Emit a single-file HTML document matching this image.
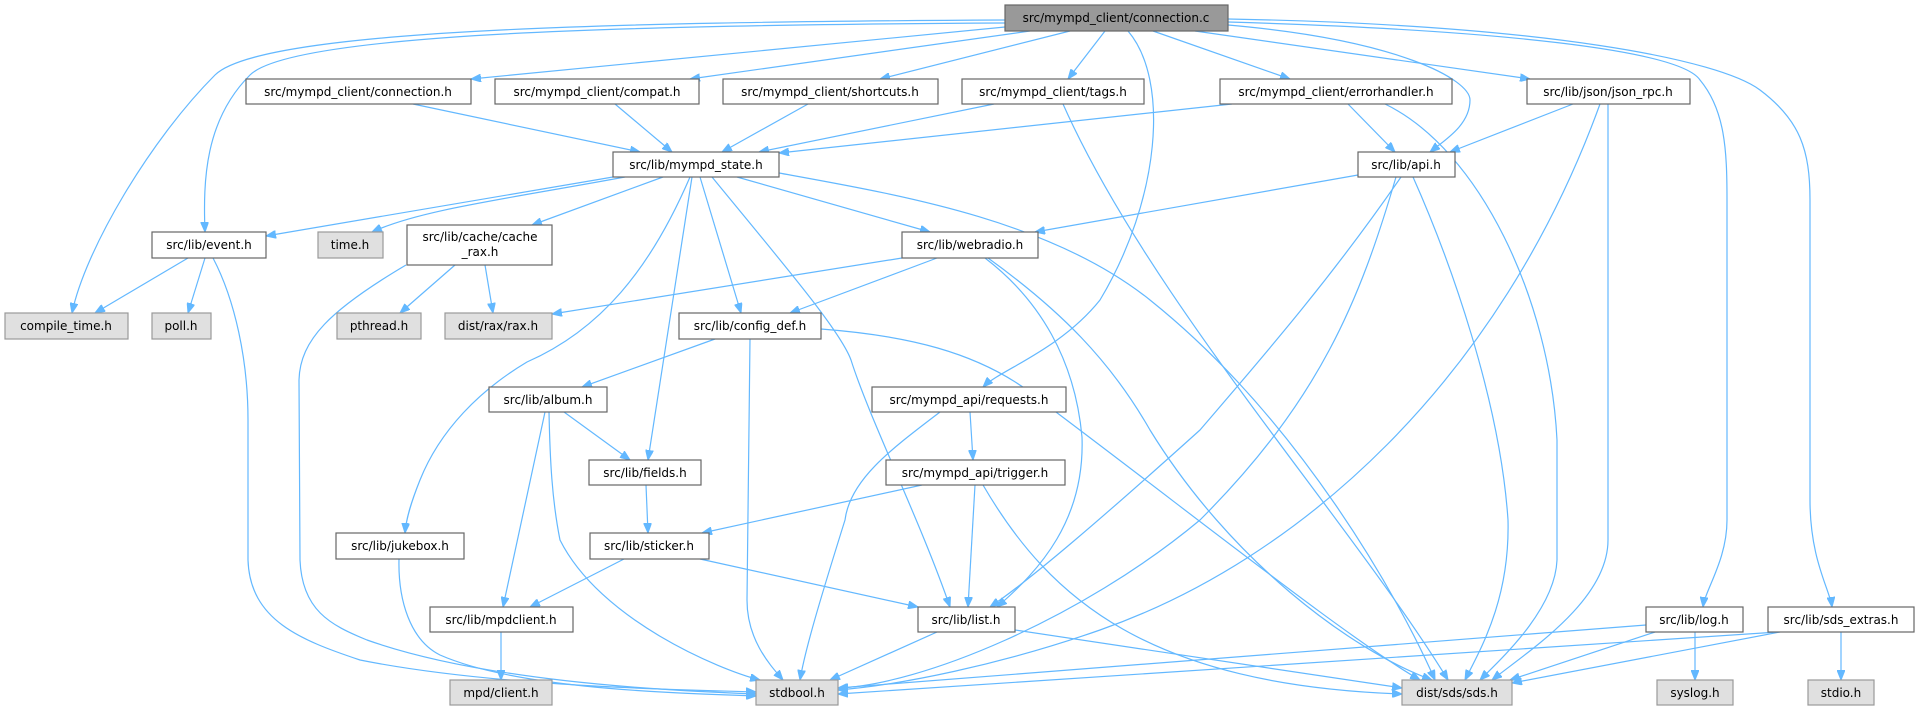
<!DOCTYPE html>
<html><head><meta charset="utf-8"><style>
html,body{margin:0;padding:0;background:#fff;}
svg{display:block;}
.n rect{fill:#fff;stroke:#666;stroke-width:1.2;}
.g rect{fill:#e0e0e0;stroke:#999;stroke-width:1.2;}
.m rect{fill:#999;stroke:#666;stroke-width:1.2;}
text{font-family:"DejaVu Sans","Liberation Sans",sans-serif;font-size:12px;fill:#000;text-anchor:middle;}
.e path{fill:none;stroke:#63b8ff;stroke-width:1.2;marker-end:url(#a);}
</style></head><body>
<svg width="1923" height="711" viewBox="0 0 1923 711" xmlns="http://www.w3.org/2000/svg">
<defs><marker id="a" markerUnits="userSpaceOnUse" markerWidth="11" markerHeight="8" refX="10" refY="4" orient="auto"><path d="M0,0 L10,4 L0,8 z" fill="#63b8ff" stroke="#63b8ff"/></marker></defs>
<g class="e">
<path d="M1005,20 C600,22 260,30 215,75 C150,140 85,250 72,313"/>
<path d="M1005,23 C600,25 290,35 250,75 C205,120 203,180 205,232"/>
<path d="M1005,27 L471,79"/>
<path d="M1030,31 L690,79"/>
<path d="M1070,31 L880,79"/>
<path d="M1105,31 L1068,79"/>
<path d="M1128,31 C1170,80 1160,200 1100,300 C1060,350 1000,370 983,387"/>
<path d="M1153,31 L1290,79"/>
<path d="M1195,31 L1530,79"/>
<path d="M1228,25 C1400,40 1470,80 1470,100 C1470,125 1445,140 1430,152"/>
<path d="M1228,22 C1500,30 1680,50 1700,80 C1725,110 1727,150 1727,200 L1727,520 C1727,560 1705,590 1703,607"/>
<path d="M1228,19 C1550,25 1720,60 1760,90 C1800,120 1810,150 1810,200 L1810,500 C1810,560 1830,590 1832,607"/>
<path d="M413,104 L640,152"/>
<path d="M615,104 L672,152"/>
<path d="M808,104 L722,152"/>
<path d="M994,104 L759,152"/>
<path d="M1063,104 C1150,300 1350,520 1448,680"/>
<path d="M1232,104 L779,153"/>
<path d="M1348,104 L1395,152"/>
<path d="M1385,104 C1480,150 1550,300 1557,440 L1557,560 C1555,610 1500,660 1480,680"/>
<path d="M1573,104 L1450,152"/>
<path d="M1600,104 C1500,380 1300,560 1100,630 C1000,665 900,685 838,690"/>
<path d="M1608,104 L1608,540 C1608,600 1530,650 1492,680"/>
<path d="M613,177 L266,236"/>
<path d="M625,177 C500,200 420,210 372,232"/>
<path d="M663,177 L532,225"/>
<path d="M690,177 C650,270 600,330 527,362 C480,390 440,430 420,480 C410,505 406,520 405,533"/>
<path d="M692,177 L648,460"/>
<path d="M700,177 L741,313"/>
<path d="M712,177 C780,260 840,330 851,360 C870,420 920,520 950,607"/>
<path d="M737,177 L930,232"/>
<path d="M779,173 C900,195 1050,220 1150,300 C1300,420 1400,600 1435,680"/>
<path d="M1358,175 L1035,232"/>
<path d="M1401,177 C1330,280 1260,360 1200,430 C1100,520 1030,580 990,607"/>
<path d="M1396,177 C1360,300 1320,400 1200,520 C1080,620 920,685 838,688"/>
<path d="M1413,177 C1450,260 1500,400 1508,520 C1510,600 1480,650 1465,680"/>
<path d="M188,258 L95,313"/>
<path d="M205,258 L188,313"/>
<path d="M213,258 C235,300 248,360 248,420 L248,560 C250,620 300,640 360,660 C500,688 700,690 756,692"/>
<path d="M455,265 L400,313"/>
<path d="M485,265 L493,313"/>
<path d="M406,265 C330,310 300,340 299,380 L300,560 C302,610 330,625 367,640 C480,680 650,690 756,694"/>
<path d="M902,258 L552,314"/>
<path d="M937,258 L790,313"/>
<path d="M985,258 C1040,300 1075,360 1082,437 C1085,520 1040,570 997,607"/>
<path d="M988,258 C1060,310 1110,360 1150,430 C1230,560 1350,650 1432,680"/>
<path d="M715,339 L582,387"/>
<path d="M750,339 L747,600 C747,640 770,665 783,680"/>
<path d="M821,329 C900,335 980,350 1040,400 C1200,520 1350,640 1420,680"/>
<path d="M564,412 L630,460"/>
<path d="M545,412 L503,607"/>
<path d="M549,412 C550,460 552,500 560,540 C600,620 720,670 760,680"/>
<path d="M940,412 C890,450 850,480 845,520 C820,600 805,650 800,680"/>
<path d="M970,412 L973,460"/>
<path d="M646,485 L648,533"/>
<path d="M922,485 L702,533"/>
<path d="M975,485 L968,607"/>
<path d="M983,485 C1050,600 1150,685 1402,694"/>
<path d="M624,559 L530,607"/>
<path d="M700,559 L918,607"/>
<path d="M501,632 L501,680"/>
<path d="M399,559 C398,600 410,640 440,655 C520,690 680,693 756,696"/>
<path d="M937,632 L830,680"/>
<path d="M1015,630 L1402,688"/>
<path d="M1646,625 L838,688"/>
<path d="M1655,632 L1510,680"/>
<path d="M1695,632 L1695,680"/>
<path d="M1778,632 L838,694"/>
<path d="M1780,632 L1512,683"/>
<path d="M1841,632 L1841,680"/>
</g>
<g class="m"><rect x="1005" y="5" width="223" height="26"/><text x="1116" y="22">src/mympd_client/connection.c</text></g>
<g class="n"><rect x="246" y="79" width="225" height="25"/><text x="358" y="96">src/mympd_client/connection.h</text></g>
<g class="n"><rect x="495" y="79" width="204" height="25"/><text x="597" y="96">src/mympd_client/compat.h</text></g>
<g class="n"><rect x="723" y="79" width="215" height="25"/><text x="830" y="96">src/mympd_client/shortcuts.h</text></g>
<g class="n"><rect x="962" y="79" width="182" height="25"/><text x="1053" y="96">src/mympd_client/tags.h</text></g>
<g class="n"><rect x="1220" y="79" width="232" height="25"/><text x="1336" y="96">src/mympd_client/errorhandler.h</text></g>
<g class="n"><rect x="1527" y="79" width="163" height="25"/><text x="1608" y="96">src/lib/json/json_rpc.h</text></g>
<g class="n"><rect x="613" y="152" width="166" height="25"/><text x="696" y="169">src/lib/mympd_state.h</text></g>
<g class="n"><rect x="1358" y="152" width="97" height="25"/><text x="1406" y="169">src/lib/api.h</text></g>
<g class="n"><rect x="152" y="232" width="114" height="26"/><text x="209" y="249">src/lib/event.h</text></g>
<g class="g"><rect x="318" y="232" width="65" height="26"/><text x="350" y="249">time.h</text></g>
<g class="n"><rect x="407" y="225" width="145" height="40"/><text x="480" y="241">src/lib/cache/cache</text><text x="480" y="256">_rax.h</text></g>
<g class="n"><rect x="902" y="232" width="136" height="26"/><text x="970" y="249">src/lib/webradio.h</text></g>
<g class="g"><rect x="5" y="313" width="123" height="26"/><text x="66" y="330">compile_time.h</text></g>
<g class="g"><rect x="152" y="313" width="59" height="26"/><text x="181" y="330">poll.h</text></g>
<g class="g"><rect x="337" y="313" width="84" height="26"/><text x="379" y="330">pthread.h</text></g>
<g class="g"><rect x="445" y="313" width="107" height="26"/><text x="498" y="330">dist/rax/rax.h</text></g>
<g class="n"><rect x="679" y="313" width="142" height="26"/><text x="750" y="330">src/lib/config_def.h</text></g>
<g class="n"><rect x="489" y="387" width="118" height="25"/><text x="548" y="404">src/lib/album.h</text></g>
<g class="n"><rect x="872" y="387" width="194" height="25"/><text x="969" y="404">src/mympd_api/requests.h</text></g>
<g class="n"><rect x="589" y="460" width="112" height="25"/><text x="645" y="477">src/lib/fields.h</text></g>
<g class="n"><rect x="886" y="460" width="179" height="25"/><text x="975" y="477">src/mympd_api/trigger.h</text></g>
<g class="n"><rect x="336" y="533" width="128" height="26"/><text x="400" y="550">src/lib/jukebox.h</text></g>
<g class="n"><rect x="590" y="533" width="119" height="26"/><text x="649" y="550">src/lib/sticker.h</text></g>
<g class="n"><rect x="430" y="607" width="143" height="25"/><text x="501" y="624">src/lib/mpdclient.h</text></g>
<g class="n"><rect x="918" y="607" width="97" height="25"/><text x="966" y="624">src/lib/list.h</text></g>
<g class="n"><rect x="1646" y="607" width="97" height="25"/><text x="1694" y="624">src/lib/log.h</text></g>
<g class="n"><rect x="1768" y="607" width="146" height="25"/><text x="1841" y="624">src/lib/sds_extras.h</text></g>
<g class="g"><rect x="450" y="680" width="102" height="25"/><text x="501" y="697">mpd/client.h</text></g>
<g class="g"><rect x="756" y="680" width="82" height="25"/><text x="797" y="697">stdbool.h</text></g>
<g class="g"><rect x="1402" y="680" width="110" height="25"/><text x="1457" y="697">dist/sds/sds.h</text></g>
<g class="g"><rect x="1657" y="680" width="76" height="25"/><text x="1695" y="697">syslog.h</text></g>
<g class="g"><rect x="1808" y="680" width="66" height="25"/><text x="1841" y="697">stdio.h</text></g>
</svg>
</body></html>
